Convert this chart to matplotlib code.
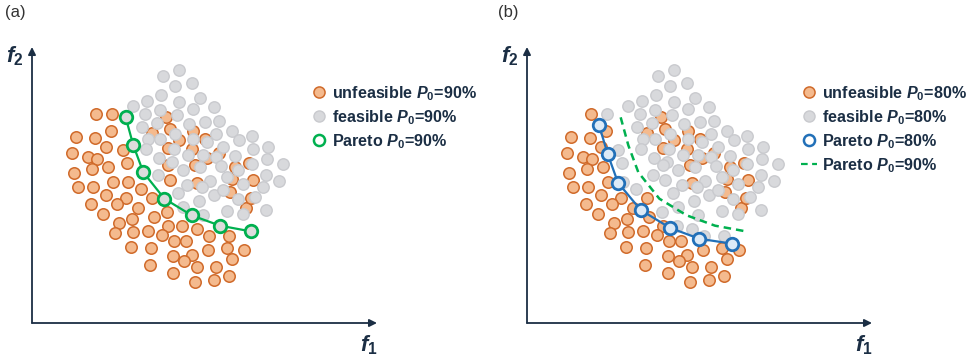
import matplotlib
matplotlib.use('Agg')
import matplotlib.pyplot as plt
from matplotlib.lines import Line2D

plt.rcParams['font.family'] = ['Liberation Sans', 'DejaVu Sans']
plt.rcParams['font.weight'] = 'bold'
plt.rcParams['mathtext.fontset'] = 'custom'
plt.rcParams['mathtext.it'] = 'Liberation Sans:italic:bold'
plt.rcParams['mathtext.rm'] = 'Liberation Sans'
plt.rcParams['mathtext.bf'] = 'Liberation Sans:bold'

# candidate designs that are unfeasible at P0=90%
unf_f1 = [13.7, 18.5, 18.2, 7.8, 13.5, 16.8, 21.8, 6.5, 11.3, 14.0, 12.7, 17.5, 23.2, 7.2,
          34.7, 30.5, 36.0, 43.0, 38.8, 46.5, 35.5, 42.5, 50.8, 47.0, 35.5, 43.5, 55.5, 59.8,
          36.0, 44.2, 54.7, 60.8, 19.0, 23.3, 27.3, 8.5, 12.8, 16.7, 22.8, 20.2, 30.7, 26.5,
          12.3, 16.0, 35.2, 31.3, 24.7, 20.8, 35.3, 39.7, 44.0, 47.8, 53.8, 58.2, 19.5, 24.8,
          29.3, 33.5, 37.2, 40.8, 24.2, 30.3, 47.3, 53.0, 37.0, 42.7, 40.2, 54.5, 30.0, 44.0,
          49.8, 37.0, 53.8, 43.5, 49.2, 54.0, 58.8, 60.2]
unf_f2 = [63.8, 63.8, 58.7, 56.8, 56.7, 54.0, 53.0, 52.2, 51.0, 50.4, 47.3, 48.0, 49.2, 46.2,
          63.0, 58.2, 59.2, 58.8, 56.0, 56.2, 53.5, 53.2, 52.0, 50.5, 48.4, 48.5, 48.0, 49.0,
          44.0, 43.2, 44.2, 44.0, 43.5, 43.5, 41.2, 41.8, 41.8, 39.5, 38.5, 36.8, 38.5, 35.7,
          36.7, 33.8, 34.3, 33.0, 32.3, 31.2, 30.2, 30.3, 29.2, 27.3, 27.3, 23.0, 28.2, 28.5,
          28.7, 27.5, 25.7, 25.7, 23.8, 23.7, 23.0, 23.5, 21.2, 21.5, 19.8, 20.2, 18.4, 17.8,
          17.8, 16.0, 15.3, 13.5, 14.0, 40.5, 35.7, 38.5]
# 1 = becomes feasible when P0 drops to 80%
ok_at_80 = [0, 1, 0, 0, 0, 0, 1, 0, 0, 0, 0, 0, 1, 0,
            0, 0, 0, 0, 0, 0, 0, 0, 0, 0, 1, 0, 0, 0,
            1, 0, 0, 0, 0, 1, 1, 0, 0, 0, 0, 0, 0, 0,
            0, 0, 1, 0, 0, 0, 0, 1, 1, 1, 1, 0, 0, 0,
            0, 0, 0, 0, 0, 0, 0, 0, 0, 0, 0, 0, 0, 0,
            0, 0, 0, 0, 0, 0, 0, 0]

# feasible at P0=90%
fea_f1 = [34.0, 38.8, 37.5, 42.5, 33.3, 29.0, 25.0, 38.8, 45.0, 49.2, 33.0, 43.0, 28.5, 38.0,
          46.5, 50.8, 32.0, 27.7, 41.7, 37.5, 49.7, 54.5, 60.5, 29.3, 33.1, 42.8, 47.0, 56.7,
          28.7, 37.2, 52.0, 61.0, 65.3, 32.7, 41.5, 46.0, 49.7, 55.5, 65.0, 70.0, 36.5, 51.2,
          45.0, 56.5, 60.5, 40.0, 32.3, 64.7, 68.8, 48.0, 53.0, 58.0, 64.0, 41.2, 45.5, 38.5,
          49.2, 52.0, 61.5, 56.5, 44.8, 39.8, 53.0, 57.8, 64.7, 46.0]
fea_f2 = [75.2, 77.0, 72.3, 73.2, 69.5, 67.8, 66.3, 67.3, 68.5, 66.0, 65.0, 65.2, 63.7, 63.5,
          61.5, 61.7, 61.0, 60.0, 60.7, 57.8, 57.8, 58.7, 57.2, 56.3, 56.2, 56.3, 55.5, 56.0,
          53.3, 53.4, 54.0, 53.2, 54.0, 50.5, 51.5, 51.5, 50.8, 51.2, 50.3, 48.7, 49.5, 48.2,
          47.8, 47.0, 48.7, 47.0, 45.5, 45.5, 43.7, 43.7, 44.8, 42.8, 42.0, 42.5, 42.0, 40.2,
          39.5, 41.0, 39.0, 38.2, 37.7, 36.0, 34.8, 33.8, 35.0, 33.5]

par90_f1 = [22.7, 25.0, 28.0, 34.3, 42.5, 51.0, 60.2]
par90_f2 = [62.8, 54.4, 46.3, 38.4, 33.4, 30.3, 28.6]
par80_f1 = [16.2, 18.8, 21.9, 28.7, 37.4, 46.2, 56.0]
par80_f2 = [60.5, 51.8, 43.2, 35.0, 29.7, 26.4, 24.9]

orange_fc, orange_ec = '#F4BA8E', '#D06A2A'
gray_fc, gray_ec = '#D8D9DC', '#C9CACE'
green = '#00B04F'
blue = '#2270B8'
dark = '#1B2E44'

W, H = 976, 360
fig = plt.figure(figsize=(W / 100, H / 100), dpi=100)


def make_axes(x0):
    ax = fig.add_axes([x0 / W, 37 / H, 345 / W, 276 / H])
    ax.set_xlim(-5.4, 98.1)
    ax.set_ylim(1.1, 83.9)
    ax.axis('off')
    for end in [(1, 0), (0, 1)]:
        ax.annotate('', xy=end, xytext=(0, 0), xycoords='axes fraction',
                    arrowprops=dict(arrowstyle='-|>', color=dark, lw=1.3,
                                    mutation_scale=11, shrinkA=0, shrinkB=0))
    ax.text(0.975, -0.082, '$f_\\mathbf{1}$', transform=ax.transAxes, fontsize=16,
            color=dark, ha='center', va='center')
    ax.text(-0.05, 0.965, '$f_\\mathbf{2}$', transform=ax.transAxes, fontsize=16,
            color=dark, ha='center', va='center')
    return ax


def legend(ax, handles, labels, x0):
    ax.legend(handles, labels, loc='upper left', bbox_to_anchor=(x0 / W, 1 - 84 / H),
              bbox_transform=fig.transFigure, frameon=False, fontsize=11.6,
              handlelength=1.0, handletextpad=0.3, labelspacing=0.33,
              borderpad=0, borderaxespad=0, labelcolor=dark)


# (a) P0 = 90%
ax = make_axes(32)
ax.scatter(unf_f1, unf_f2, s=68, c=orange_fc, edgecolors=orange_ec, linewidths=1.1, zorder=2)
ax.scatter(fea_f1, fea_f2, s=68, c=gray_fc, edgecolors=gray_ec, linewidths=1.0, zorder=3)
ax.plot(par90_f1, par90_f2, color=green, lw=1.6, marker='o', ms=9,
        mfc='#DCDCDC', mec=green, mew=2.0, zorder=4)
h = [Line2D([], [], ls='none', marker='o', ms=8, mfc=orange_fc, mec=orange_ec, mew=1.1),
     Line2D([], [], ls='none', marker='o', ms=8, mfc=gray_fc, mec=gray_ec, mew=1.0),
     Line2D([], [], ls='none', marker='o', ms=8, mfc='white', mec=green, mew=1.8)]
legend(ax, h, ['unfeasible $P_0$=90%', 'feasible $P_0$=90%', 'Pareto $P_0$=90%'], 311)
fig.text(15 / W, 1 - 13 / H, '(a)', fontsize=12, fontweight='normal', color='#333333',
         ha='center', va='center')

# (b) P0 = 80%
ax = make_axes(527)
u1 = [x for x, k in zip(unf_f1, ok_at_80) if not k]
u2 = [y for y, k in zip(unf_f2, ok_at_80) if not k]
g1 = fea_f1 + [x for x, k in zip(unf_f1, ok_at_80) if k]
g2 = fea_f2 + [y for y, k in zip(unf_f2, ok_at_80) if k]
ax.scatter(u1, u2, s=68, c=orange_fc, edgecolors=orange_ec, linewidths=1.1, zorder=2)
ax.scatter(g1, g2, s=68, c=gray_fc, edgecolors=gray_ec, linewidths=1.0, zorder=3)
ax.plot(par90_f1, par90_f2, color=green, lw=1.8, ls=(0, (3, 2)), zorder=4)
ax.plot(par80_f1, par80_f2, color=blue, lw=1.6, marker='o', ms=9,
        mfc='#DCEAF7', mec=blue, mew=2.0, zorder=5)
h = [Line2D([], [], ls='none', marker='o', ms=8, mfc=orange_fc, mec=orange_ec, mew=1.1),
     Line2D([], [], ls='none', marker='o', ms=8, mfc=gray_fc, mec=gray_ec, mew=1.0),
     Line2D([], [], ls='none', marker='o', ms=8, mfc='white', mec=blue, mew=1.8),
     Line2D([], [], color=green, lw=1.6, ls=(0, (3, 2)))]
legend(ax, h, ['unfeasible $P_0$=80%', 'feasible $P_0$=80%', 'Pareto $P_0$=80%',
               'Pareto $P_0$=90%'], 801)
fig.text(508 / W, 1 - 13 / H, '(b)', fontsize=12, fontweight='normal', color='#333333',
         ha='center', va='center')

fig.savefig('out.png', dpi=100)
